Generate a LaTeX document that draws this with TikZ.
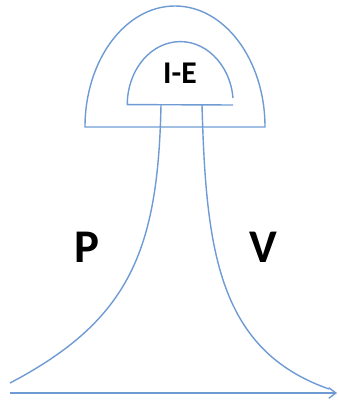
\documentclass[tikz,border=0pt]{standalone}
\usepackage{fontspec}
\setmainfont{Carlito}
\usepackage{tikz}
\usetikzlibrary{arrows.meta}
\definecolor{line_blue}{RGB}{110,155,212}

\begin{document}
\begin{tikzpicture}[x=0.03cm,y=-0.03cm,line width=1.2pt,draw=line_blue]
    \tikzstyle{curve}=[draw=line_blue, line width=1.2pt]
    \tikzstyle{letter}=[text=black, font=\bfseries\fontsize{40}{48}\selectfont, inner sep=0pt]
    \tikzstyle{small}=[text=black, font=\bfseries\fontsize{27}{32}\selectfont, inner sep=0pt]
    \useasboundingbox (0,0) rectangle (338,401);

    % outer and inner half domes
    \draw[curve] (85,127) arc[start angle=180, end angle=360, x radius=90, y radius=121] -- cycle;
    \draw[curve] (233,98) arc[start angle=354, end angle=180, x radius=53, y radius=63] -- (233,105);
    \node[small] (ie) at (180,73) {I-E};

    % the two flanks
    \draw[curve] (161,105) .. controls (158,250) and (130,320) .. (10,383);
    \draw[curve] (202,105) .. controls (206,250) and (218,350) .. (329,389);

    \node[letter] (p) at (86.5,247) {P};
    \node[letter] (v) at (263,247) {V};

    % base axis
    \coordinate (o) at (10,393);
    \coordinate (x) at (337,393);
    \draw[curve, -{Straight Barb[length=6pt,width=9pt]}] (o) -- (x);
\end{tikzpicture}
\end{document}
